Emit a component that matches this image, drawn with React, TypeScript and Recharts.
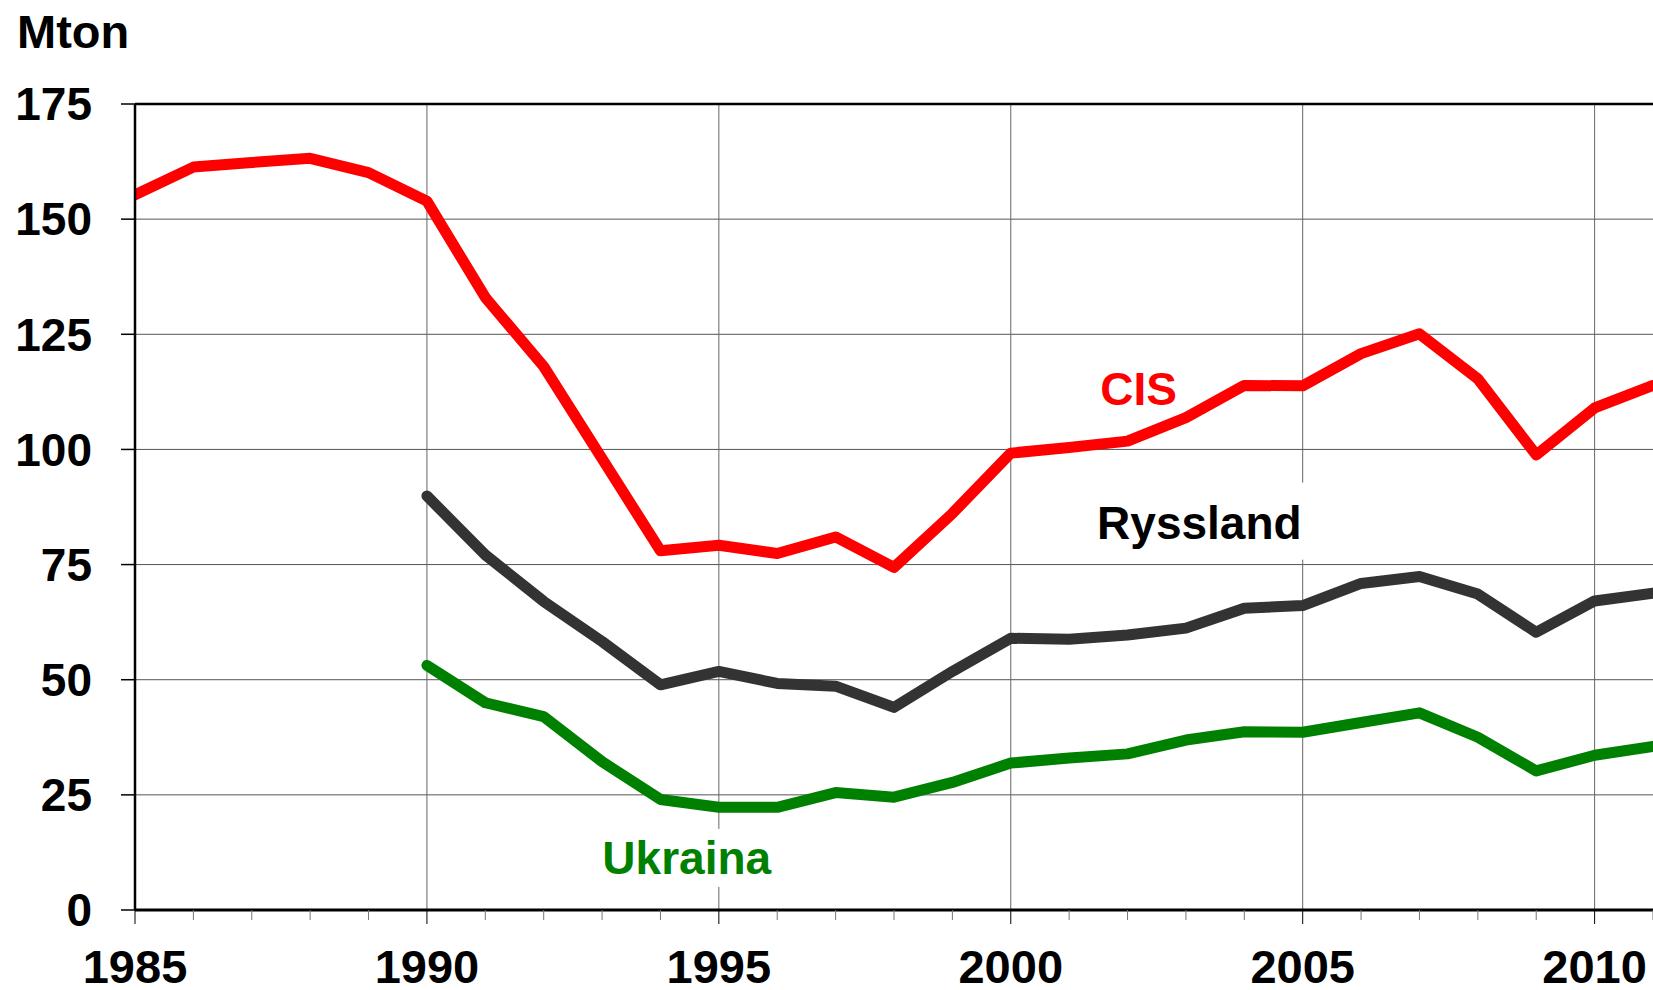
import React from 'react';
import { LineChart, Line, XAxis, YAxis, CartesianGrid, ReferenceLine, ReferenceDot } from 'recharts';

const years = [1985, 1986, 1987, 1988, 1989, 1990, 1991, 1992, 1993, 1994, 1995, 1996, 1997, 1998, 1999, 2000, 2001, 2002, 2003, 2004, 2005, 2006, 2007, 2008, 2009, 2010, 2011];
const cisValues = [155.3, 161.3, 162.3, 163.2, 160.1, 153.9, 133.0, 118.0, 98.0, 78.0, 79.2, 77.4, 81.0, 74.4, 86.1, 99.2, 100.4, 101.8, 106.9, 113.9, 113.8, 120.8, 125.1, 115.3, 98.8, 109.0, 113.9];
const russiaValues = [null, null, null, null, null, 89.9, 77.1, 67.0, 58.3, 48.9, 51.8, 49.2, 48.6, 44.0, 51.8, 59.0, 58.8, 59.7, 61.2, 65.5, 66.1, 70.9, 72.4, 68.6, 60.3, 67.1, 68.8];
const ukraineValues = [null, null, null, null, null, 53.1, 45.0, 42.0, 32.2, 24.0, 22.3, 22.3, 25.5, 24.5, 27.7, 31.9, 33.0, 33.9, 36.9, 38.7, 38.6, 40.7, 42.8, 37.5, 30.2, 33.6, 35.5];
const yTicks = [0, 25, 50, 75, 100, 125, 150, 175];
const gridYears = [1990, 1995, 2000, 2005, 2010];
const unitLabel = 'Mton';

const seriesNames = { cis: 'CIS', russia: 'Ryssland', ukraine: 'Ukraina' };

const data = years.map((year, i) => ({
  year,
  cis: cisValues[i],
  russia: russiaValues[i],
  ukraine: ukraineValues[i],
}));

const FONT = '"Liberation Sans", Arial, Helvetica, sans-serif';

const annotations = [
  { key: 'cis', year: 2002.19, value: 113.1, color: '#FF0000', box: null },
  { key: 'russia', year: 2003.23, value: 84.1, color: '#000000', box: { w: 232, top: 40, bottom: 37 } },
  { key: 'ukraine', year: 1994.45, value: 11.3, color: '#008000', box: { w: 190, top: 29, bottom: 29 } },
];

const XTick = (props: any) => {
  const { x, y, payload } = props;
  const yr = payload.value;
  const major = yr % 5 === 0;
  return (
    <g>
      <line x1={x} x2={x} y1={y} y2={y + (major ? 14 : 10)} stroke={major ? '#000' : '#777'} strokeWidth={1} />
      {major && (
        <text x={x} y={y + 40} dy="0.71em" textAnchor="middle" fill="#000" fontFamily={FONT} fontWeight="bold" fontSize={47}>
          {yr}
        </text>
      )}
    </g>
  );
};

const makeLabel = (a: any) => (props: any) => {
  const vb = props.viewBox || {};
  const cx = (vb.x ?? 0) + (vb.width ?? 0) / 2;
  const cy = (vb.y ?? 0) + (vb.height ?? 0) / 2;
  return (
    <g>
      {a.box && (
        <rect x={cx - a.box.w / 2} y={cy - a.box.top} width={a.box.w} height={a.box.top + a.box.bottom} fill="#fff" />
      )}
      <text x={cx} y={cy} dy="0.355em" textAnchor="middle" fill={a.color} fontFamily={FONT} fontWeight="bold" fontSize={46}>
        {(seriesNames as any)[a.key]}
      </text>
    </g>
  );
};

export default function App() {
  return (
    <div style={{ position: 'absolute', left: 0, top: 0, width: 1653, height: 990, overflow: 'hidden', background: '#fff' }}>
      <div
        style={{
          position: 'absolute',
          left: 17,
          top: 9,
          fontFamily: FONT,
          fontWeight: 'bold',
          fontSize: 47,
          lineHeight: '46px',
          color: '#000',
          zIndex: 2,
        }}
      >
        {unitLabel}
      </div>
      <LineChart width={1653} height={990} data={data} margin={{ top: 104, right: 0, bottom: 0, left: 0 }}>
        <CartesianGrid vertical={false} stroke="#555" strokeWidth={1} />
        {gridYears.map((yr) => (
          <ReferenceLine key={yr} x={yr} stroke="#666" strokeWidth={1} />
        ))}
        <XAxis
          dataKey="year"
          type="number"
          domain={[1985, 2011]}
          ticks={years}
          interval={0}
          height={80}
          tickSize={0}
          tickMargin={0}
          tickLine={false}
          tick={<XTick />}
          axisLine={{ stroke: '#000', strokeWidth: 3 }}
          allowDataOverflow
        />
        <YAxis
          type="number"
          domain={[0, 175]}
          ticks={yTicks}
          interval={0}
          width={135}
          tickSize={14}
          tickMargin={29}
          tickLine={{ stroke: '#000', strokeWidth: 1.5 }}
          axisLine={{ stroke: '#000', strokeWidth: 2.5 }}
          tick={{ fill: '#000', fontSize: 46, fontWeight: 'bold', fontFamily: FONT }}
        />
        <ReferenceLine y={175} stroke="#000" strokeWidth={2.5} />
        <Line type="linear" dataKey="cis" stroke="#FF0000" strokeWidth={11} dot={false} isAnimationActive={false} strokeLinejoin="round" strokeLinecap="round" />
        <Line type="linear" dataKey="russia" stroke="#333333" strokeWidth={11} dot={false} isAnimationActive={false} strokeLinejoin="round" strokeLinecap="round" />
        <Line type="linear" dataKey="ukraine" stroke="#008000" strokeWidth={11} dot={false} isAnimationActive={false} strokeLinejoin="round" strokeLinecap="round" />
        {annotations.map((a) => (
          <ReferenceDot key={a.key} x={a.year} y={a.value} r={1} fill="none" stroke="none" label={makeLabel(a)} />
        ))}
      </LineChart>
    </div>
  );
}
